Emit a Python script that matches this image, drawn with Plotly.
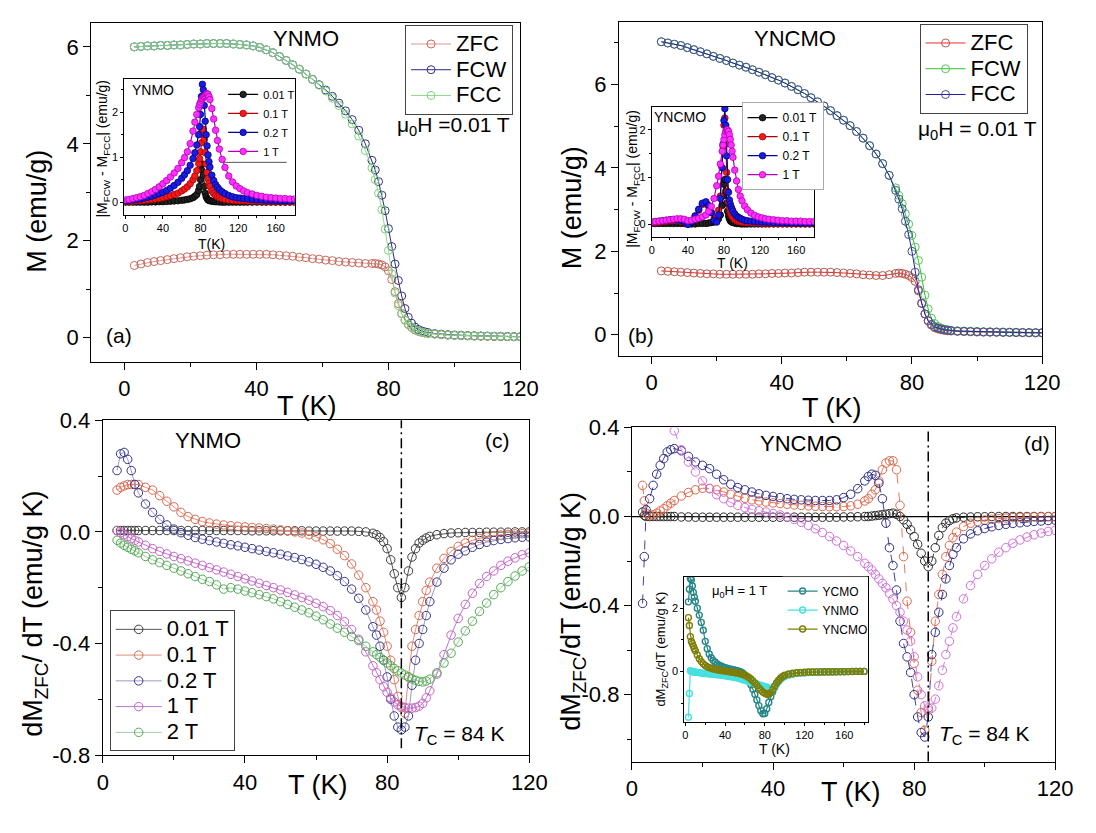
import plotly.graph_objects as go

W, H = 1096, 833
FONT = "Liberation Sans, Arial, Helvetica, sans-serif"


def fx(px):
    return px / W


def fy(py):
    return 1 - py / H


# ---------------- panel (a): YNMO, mu0H = 0.01 T ----------------
T_ab = list(range(3, 76, 2)) + list(range(76, 93)) + list(range(94, 121, 2))

zfc_a = [1.49, 1.52, 1.55, 1.57, 1.59, 1.61, 1.63, 1.65, 1.67, 1.68,
         1.69, 1.70, 1.71, 1.71, 1.72, 1.72, 1.72, 1.72, 1.72, 1.72,
         1.72, 1.71, 1.70, 1.69, 1.68, 1.66, 1.65, 1.63, 1.62, 1.60,
         1.59, 1.57, 1.56, 1.55, 1.54, 1.53, 1.53,
         1.53, 1.52, 1.50, 1.46, 1.38, 1.20, 0.95, 0.70, 0.50, 0.36,
         0.27, 0.21, 0.16, 0.13, 0.11, 0.095, 0.085,
         0.07, 0.06, 0.05, 0.045, 0.04, 0.035, 0.03, 0.028, 0.025, 0.022,
         0.02, 0.018, 0.016, 0.015]
fcw_a = [6.00, 6.01, 6.02, 6.02, 6.03, 6.03, 6.04, 6.04, 6.05, 6.06,
         6.06, 6.07, 6.07, 6.07, 6.07, 6.06, 6.05, 6.04, 6.02, 5.99,
         5.94, 5.88, 5.80, 5.72, 5.63, 5.54, 5.44, 5.33, 5.22, 5.11,
         4.98, 4.84, 4.68, 4.50, 4.28, 4.00, 3.66,
         3.46, 3.22, 2.94, 2.62, 2.25, 1.88, 1.52, 1.18, 0.86, 0.60,
         0.42, 0.30, 0.22, 0.17, 0.14, 0.12, 0.105,
         0.085, 0.072, 0.062, 0.055, 0.05, 0.045, 0.04, 0.036, 0.033, 0.03,
         0.028, 0.025, 0.023, 0.022]
fcc_a = [6.00, 6.01, 6.02, 6.02, 6.03, 6.03, 6.04, 6.04, 6.05, 6.06,
         6.06, 6.07, 6.07, 6.07, 6.07, 6.06, 6.05, 6.04, 6.02, 5.99,
         5.94, 5.88, 5.80, 5.72, 5.63, 5.54, 5.44, 5.33, 5.21, 5.09,
         4.94, 4.79, 4.61, 4.41, 4.16, 3.86, 3.50,
         3.26, 2.98, 2.64, 2.24, 1.80, 1.32, 0.92, 0.66, 0.49, 0.37,
         0.28, 0.22, 0.17, 0.14, 0.115, 0.10, 0.09,
         0.075, 0.065, 0.055, 0.05, 0.045, 0.04, 0.035, 0.032, 0.03, 0.028,
         0.025, 0.022, 0.02, 0.02]

# ---------------- panel (b): YNCMO, mu0H = 0.01 T ----------------
zfc_b = [1.53, 1.52, 1.51, 1.50, 1.49, 1.48, 1.47, 1.46, 1.46, 1.45,
         1.45, 1.45, 1.45, 1.45, 1.45, 1.46, 1.46, 1.47, 1.47, 1.48,
         1.48, 1.49, 1.50, 1.50, 1.50, 1.50, 1.50, 1.49, 1.48, 1.47,
         1.46, 1.44, 1.43, 1.42, 1.42, 1.44, 1.47,
         1.48, 1.47, 1.45, 1.42, 1.37, 1.28, 1.05, 0.76, 0.50, 0.33,
         0.23, 0.17, 0.14, 0.12, 0.105, 0.095, 0.09,
         0.08, 0.075, 0.07, 0.065, 0.062, 0.06, 0.058, 0.055, 0.053, 0.05,
         0.048, 0.046, 0.045, 0.044]
fcw_b = [7.02, 6.99, 6.96, 6.93, 6.88, 6.83, 6.78, 6.73, 6.67, 6.62,
         6.57, 6.51, 6.46, 6.41, 6.35, 6.29, 6.23, 6.16, 6.10, 6.03,
         5.95, 5.87, 5.78, 5.68, 5.58, 5.48, 5.37, 5.25, 5.14, 5.01,
         4.87, 4.71, 4.53, 4.33, 4.10, 3.82, 3.52,
         3.34, 3.14, 2.90, 2.65, 2.38, 2.10, 1.78, 1.38, 0.95, 0.62,
         0.40, 0.27, 0.20, 0.16, 0.135, 0.12, 0.11,
         0.095, 0.09, 0.085, 0.08, 0.075, 0.072, 0.07, 0.067, 0.064, 0.061,
         0.058, 0.056, 0.054, 0.053]
fcc_b = [7.02, 6.99, 6.96, 6.93, 6.88, 6.83, 6.78, 6.73, 6.67, 6.62,
         6.57, 6.51, 6.46, 6.41, 6.35, 6.29, 6.23, 6.16, 6.10, 6.03,
         5.95, 5.87, 5.78, 5.68, 5.58, 5.48, 5.37, 5.25, 5.14, 5.01,
         4.87, 4.71, 4.53, 4.33, 4.10, 3.82, 3.46,
         3.25, 3.02, 2.72, 2.40, 2.00, 1.50, 1.08, 0.75, 0.50, 0.34,
         0.25, 0.19, 0.16, 0.14, 0.12, 0.11, 0.10,
         0.09, 0.085, 0.08, 0.075, 0.07, 0.068, 0.065, 0.062, 0.06, 0.057,
         0.055, 0.052, 0.05, 0.05]

# ---------------- insets of (a) and (b): |M_FCW - M_FCC| ----------------
T_in = [0, 4, 8, 12, 16, 20, 24, 28, 32, 36, 40, 44, 48, 52, 56, 60,
        63, 66, 69, 72, 74, 76, 78,
        79, 80, 81, 82, 83, 84, 85, 86, 87, 88, 89, 90,
        92, 94, 96, 98, 100,
        103, 106, 110, 114, 118, 122, 126, 130,
        135, 140, 145, 150, 155, 160, 165, 170, 175, 180]
fields_in = ["0.01 T", "0.1 T", "0.2 T", "1 T"]

dfc_ynmo = [
    [0, 0, 0, 0, 0, 0, 0, 0.005, 0.005, 0.01, 0.01, 0.015, 0.02, 0.025, 0.03, 0.04,
     0.05, 0.06, 0.075, 0.1, 0.13, 0.17, 0.26,
     0.35, 0.5, 0.72, 0.85, 0.6, 0.35, 0.2, 0.12, 0.08, 0.05, 0.04, 0.03,
     0.02, 0.015, 0.01, 0.01, 0.005,
     0, 0, 0, 0, 0, 0, 0, 0,
     0, 0, 0, 0, 0, 0, 0, 0, 0, 0],
    [0.02, 0.02, 0.02, 0.03, 0.03, 0.04, 0.05, 0.06, 0.07, 0.08, 0.1, 0.12, 0.14, 0.17, 0.2, 0.25,
     0.29, 0.34, 0.41, 0.5, 0.58, 0.7, 0.86,
     0.97, 1.12, 1.32, 1.55, 1.62, 1.4, 1.1, 0.85, 0.66, 0.52, 0.42, 0.35,
     0.25, 0.19, 0.15, 0.12, 0.1,
     0.08, 0.065, 0.05, 0.04, 0.035, 0.03, 0.03, 0.025,
     0.02, 0.02, 0.02, 0.015, 0.015, 0.015, 0.01, 0.01, 0.01, 0.01],
    [0.03, 0.04, 0.05, 0.06, 0.07, 0.09, 0.11, 0.13, 0.16, 0.19, 0.22, 0.26, 0.31, 0.37, 0.44, 0.53,
     0.61, 0.7, 0.82, 0.97, 1.1, 1.27, 1.5,
     1.68, 1.95, 2.35, 2.62, 2.5, 2.15, 1.8, 1.5, 1.25, 1.05, 0.9, 0.78,
     0.6, 0.48, 0.39, 0.33, 0.28,
     0.23, 0.19, 0.15, 0.12, 0.1, 0.09, 0.08, 0.07,
     0.06, 0.05, 0.05, 0.04, 0.04, 0.035, 0.03, 0.03, 0.03, 0.03],
    [0.05, 0.06, 0.08, 0.1, 0.12, 0.15, 0.19, 0.23, 0.28, 0.34, 0.41, 0.48, 0.56, 0.65, 0.75, 0.88,
     0.99, 1.12, 1.3, 1.58, 1.78, 1.95, 2.1,
     2.17, 2.22, 2.27, 2.3, 2.33, 2.35, 2.37, 2.4, 2.41, 2.4, 2.35, 2.28,
     2.08, 1.85, 1.6, 1.37, 1.18,
     0.95, 0.77, 0.58, 0.45, 0.36, 0.3, 0.25, 0.21,
     0.18, 0.15, 0.13, 0.11, 0.1, 0.09, 0.08, 0.08, 0.07, 0.07],
]
dfc_yncmo = [
    [0.02, 0.02, 0.02, 0.02, 0.02, 0.02, 0.02, 0.02, 0.02, 0.02, 0.01, 0.01, 0.01, 0.02, 0.02, 0.02,
     0.03, 0.04, 0.05, 0.08, 0.12, 0.2, 0.4,
     0.6, 0.85, 0.95, 0.7, 0.45, 0.28, 0.18, 0.12, 0.08, 0.06, 0.05, 0.04,
     0.03, 0.02, 0.02, 0.015, 0.01,
     0.01, 0.01, 0.01, 0.01, 0.01, 0.01, 0.01, 0.01,
     0.01, 0.01, 0.01, 0.01, 0.01, 0.01, 0.01, 0.01, 0.01, 0.01],
    [0.03, 0.04, 0.05, 0.06, 0.07, 0.08, 0.08, 0.08, 0.07, 0.05, 0.02, 0.08, 0.18, 0.3, 0.42, 0.45,
     0.38, 0.25, 0.12, 0.15, 0.3, 0.6, 1.2,
     1.65, 2.1, 2.25, 1.7, 1.1, 0.7, 0.48, 0.35, 0.27, 0.21, 0.17, 0.14,
     0.1, 0.08, 0.065, 0.055, 0.05,
     0.045, 0.04, 0.035, 0.03, 0.03, 0.025, 0.025, 0.02,
     0.02, 0.02, 0.02, 0.02, 0.02, 0.02, 0.02, 0.02, 0.02, 0.02],
    [0.05, 0.06, 0.07, 0.08, 0.09, 0.1, 0.1, 0.1, 0.09, 0.06, 0.0, 0.06, 0.18, 0.32, 0.45, 0.48,
     0.4, 0.25, 0.08, 0.05, 0.2, 0.55, 1.2,
     1.7, 2.2, 2.45, 2.1, 1.45, 0.95, 0.68, 0.52, 0.43, 0.37, 0.32, 0.28,
     0.22, 0.18, 0.15, 0.13, 0.11,
     0.09, 0.08, 0.07, 0.06, 0.055, 0.05, 0.05, 0.045,
     0.04, 0.04, 0.04, 0.035, 0.035, 0.035, 0.03, 0.03, 0.03, 0.03],
    [0.05, 0.06, 0.07, 0.08, 0.09, 0.1, 0.11, 0.12, 0.12, 0.11, 0.08, 0.09, 0.11, 0.13, 0.16, 0.2,
     0.28, 0.38, 0.55, 0.82, 1.02, 1.28, 1.55,
     1.68, 1.8, 1.9, 1.97, 2.0, 2.0, 1.97, 1.9, 1.8, 1.68, 1.55, 1.42,
     1.15, 0.92, 0.74, 0.6, 0.5,
     0.39, 0.31, 0.24, 0.19, 0.16, 0.14, 0.12, 0.11,
     0.1, 0.09, 0.08, 0.08, 0.07, 0.07, 0.07, 0.06, 0.06, 0.06],
]

# ---------------- panel (c): dM_ZFC/dT of YNMO ----------------
T_c = [4, 5, 6, 7, 8, 9, 10] + list(range(12, 77, 2)) + list(range(77, 93)) + list(range(94, 121, 2))
fields_c = ["0.01 T", "0.1 T", "0.2 T", "1 T", "2 T"]
dmdt_c = [
    [0.005, 0.005, 0.005, 0.005, 0.005, 0.005, 0.005,
     0.005, 0.005, 0.005, 0.005, 0.005, 0.005, 0.005, 0.005, 0.005, 0.005,
     0.005, 0.005, 0.005, 0.005, 0.005, 0.004, 0.004, 0.004, 0.004, 0.004,
     0.004, 0.004, 0.004, 0.003, 0.003, 0.003, 0.003, 0.003, 0.003, 0.003,
     0.002, 0.0, -0.005,
     -0.01, -0.02, -0.035, -0.06, -0.1, -0.15, -0.2, -0.235, -0.2, -0.14,
     -0.09, -0.06, -0.04, -0.03, -0.022, -0.016,
     -0.01, -0.006, -0.004, -0.003, -0.002, -0.002, -0.002, -0.001, -0.001, -0.001,
     -0.001, 0.0, 0.0, 0.0],
    [0.15, 0.16, 0.165, 0.17, 0.17, 0.17, 0.17,
     0.16, 0.15, 0.13, 0.11, 0.09, 0.07, 0.055, 0.045, 0.037, 0.032,
     0.028, 0.025, 0.022, 0.02, 0.018, 0.016, 0.014, 0.012, 0.01, 0.007,
     0.004, 0.0, -0.004, -0.01, -0.018, -0.028, -0.042, -0.062, -0.085, -0.115,
     -0.155, -0.2, -0.25,
     -0.28, -0.32, -0.36, -0.41, -0.46, -0.53, -0.59, -0.63, -0.65, -0.52,
     -0.41, -0.35, -0.3, -0.25, -0.21, -0.18,
     -0.13, -0.095, -0.07, -0.052, -0.04, -0.03, -0.023, -0.018, -0.014, -0.011,
     -0.009, -0.007, -0.006, -0.005],
    [0.22, 0.28, 0.285, 0.26, 0.22, 0.17, 0.14,
     0.1, 0.07, 0.045, 0.025, 0.01, -0.003, -0.012, -0.02, -0.026, -0.031,
     -0.036, -0.041, -0.046, -0.05, -0.055, -0.06, -0.065, -0.07, -0.075, -0.08,
     -0.086, -0.092, -0.099, -0.107, -0.116, -0.127, -0.14, -0.157, -0.178, -0.205,
     -0.238, -0.28, -0.34,
     -0.37, -0.41, -0.46, -0.52, -0.6, -0.66, -0.7, -0.71, -0.7, -0.66,
     -0.55, -0.46, -0.4, -0.35, -0.3, -0.25,
     -0.18, -0.13, -0.1, -0.08, -0.068, -0.055, -0.045, -0.037, -0.031, -0.027,
     -0.024, -0.021, -0.019, -0.018],
    [0.005, -0.003, -0.01, -0.017, -0.024, -0.03, -0.036,
     -0.048, -0.06, -0.07, -0.079, -0.088, -0.096, -0.104, -0.112, -0.12, -0.128,
     -0.136, -0.144, -0.152, -0.16, -0.168, -0.176, -0.184, -0.192, -0.2, -0.208,
     -0.217, -0.226, -0.235, -0.245, -0.256, -0.268, -0.282, -0.3, -0.322, -0.35,
     -0.385, -0.43, -0.48,
     -0.505, -0.53, -0.555, -0.575, -0.595, -0.61, -0.62, -0.625, -0.63, -0.632,
     -0.632, -0.63, -0.625, -0.615, -0.595, -0.57,
     -0.51, -0.44, -0.37, -0.31, -0.26, -0.22, -0.185, -0.16, -0.14, -0.12,
     -0.105, -0.093, -0.082, -0.075],
    [-0.03, -0.04, -0.048, -0.055, -0.062, -0.068, -0.075,
     -0.088, -0.1, -0.11, -0.12, -0.13, -0.14, -0.15, -0.16, -0.17, -0.178,
     -0.19, -0.205, -0.2, -0.205, -0.212, -0.218, -0.225, -0.232, -0.24, -0.25,
     -0.26, -0.27, -0.28, -0.29, -0.302, -0.315, -0.33, -0.345, -0.36, -0.375,
     -0.39, -0.41, -0.43,
     -0.44, -0.45, -0.46, -0.47, -0.48, -0.49, -0.498, -0.506, -0.513, -0.52,
     -0.527, -0.532, -0.536, -0.538, -0.535, -0.528,
     -0.505, -0.47, -0.435, -0.395, -0.355, -0.32, -0.285, -0.255, -0.225, -0.2,
     -0.178, -0.158, -0.14, -0.125],
]

# ---------------- panel (d): dM_ZFC/dT of YNCMO ----------------
T_d = [3, 3.5, 4, 5, 6, 7, 8, 9, 10, 11, 12] + list(range(14, 67, 2)) + list(range(67, 93)) + list(range(94, 121, 2))
dmdt_d = [
    [0.02, 0.005, 0.0, 0.0, 0.0, 0.0, 0.0, 0.0, 0.0, 0.0, 0.0,
     -0.002, -0.002, -0.003, -0.003, -0.003, -0.003, -0.003, -0.003, -0.003, -0.003,
     -0.003, -0.003, -0.003, -0.003, -0.003, -0.003, -0.003, -0.003, -0.003, -0.003,
     -0.003, -0.003, -0.003, -0.002, -0.002, -0.001, 0.0,
     0.0, 0.002, 0.004, 0.006, 0.008, 0.01, 0.013, 0.015, 0.01, 0.0,
     -0.015, -0.035, -0.06, -0.09, -0.125, -0.165, -0.2, -0.225, -0.2, -0.14,
     -0.085, -0.05, -0.03, -0.018, -0.01, -0.006,
     -0.003, -0.002, -0.001, -0.001, 0.0, 0.0, 0.0, 0.0, 0.0, 0.0,
     0.0, 0.0, 0.0, 0.0],
    [0.14, 0.07, 0.015, 0.005, 0.008, 0.015, 0.025, 0.035, 0.048, 0.06, 0.072,
     0.092, 0.108, 0.12, 0.127, 0.126, 0.12, 0.11, 0.1, 0.09, 0.082,
     0.075, 0.07, 0.065, 0.061, 0.058, 0.055, 0.052, 0.05, 0.048, 0.046,
     0.045, 0.044, 0.044, 0.045, 0.048, 0.055, 0.07,
     0.08, 0.1, 0.12, 0.16, 0.21, 0.24, 0.25, 0.25, 0.21, 0.05,
     -0.18, -0.38, -0.52, -0.66, -0.78, -0.88, -0.96, -0.86, -0.65, -0.47,
     -0.35, -0.26, -0.18, -0.13, -0.095, -0.07,
     -0.045, -0.03, -0.022, -0.016, -0.012, -0.009, -0.007, -0.005, -0.004, -0.003,
     -0.002, -0.002, -0.001, -0.001],
    [-0.39, -0.18, 0.03, 0.08, 0.14, 0.19, 0.23, 0.26, 0.29, 0.3, 0.305,
     0.295, 0.27, 0.245, 0.23, 0.215, 0.19, 0.165, 0.145, 0.13, 0.12,
     0.11, 0.102, 0.095, 0.09, 0.085, 0.08, 0.077, 0.075, 0.073, 0.072,
     0.072, 0.072, 0.075, 0.085, 0.1, 0.125, 0.16,
     0.18, 0.19, 0.185, 0.15, 0.08, -0.03, -0.14, -0.22, -0.33, -0.47,
     -0.57, -0.63, -0.7, -0.8, -0.9, -0.97, -0.99, -0.9, -0.62, -0.52,
     -0.43, -0.35, -0.28, -0.22, -0.17, -0.14,
     -0.1, -0.078, -0.064, -0.054, -0.046, -0.04, -0.035, -0.031, -0.028, -0.025,
     -0.022, -0.02, -0.018, -0.016],
    [None, None, None, None, None, None, None, None, None, None, 0.385,
     0.3, 0.245, 0.2, 0.16, 0.125, 0.098, 0.08, 0.063, 0.05, 0.04,
     0.032, 0.026, 0.02, 0.014, 0.007, -0.002, -0.013, -0.026, -0.04, -0.055,
     -0.072, -0.09, -0.11, -0.13, -0.155, -0.18, -0.21,
     -0.225, -0.24, -0.26, -0.28, -0.3, -0.32, -0.345, -0.37, -0.4, -0.43,
     -0.47, -0.51, -0.56, -0.63, -0.72, -0.8, -0.85, -0.87, -0.86, -0.82,
     -0.76, -0.69, -0.62, -0.56, -0.5, -0.45,
     -0.37, -0.31, -0.26, -0.22, -0.19, -0.16, -0.14, -0.12, -0.105, -0.092,
     -0.082, -0.074, -0.067, -0.062],
]

# ---------------- inset of (d): dM_ZFC/dT at 1 T for three samples ----------------
T_di = [3, 4, 5, 6, 7, 8, 9] + list(range(10, 101, 2)) + list(range(104, 181, 4))
samples_di = ["YCMO", "YNMO", "YNCMO"]
dmdt_di = [
    [2.2, 2.6, 2.94, 2.9, 2.7, 2.5, 2.35,
     2.22, 2.0, 1.78, 1.55, 1.3, 0.95, 0.72, 0.55, 0.43, 0.35,
     0.29, 0.24, 0.2, 0.17, 0.14, 0.12, 0.1, 0.08, 0.07, 0.055,
     0.04, 0.025, 0.01, -0.02, -0.06, -0.12, -0.2, -0.3, -0.42, -0.56,
     -0.72, -0.9, -1.08, -1.24, -1.34, -1.33, -1.18, -0.98, -0.8, -0.64,
     -0.5, -0.38, -0.3, -0.23, -0.18, -0.15,
     -0.11, -0.08, -0.06, -0.05, -0.04, -0.035, -0.03, -0.025, -0.02, -0.02,
     -0.015, -0.015, -0.01, -0.01, -0.01, -0.005, -0.005, 0.0, 0.0, 0.0],
    [-1.45, -0.7, 0.02, 0.0, -0.01, -0.01, -0.02,
     -0.02, -0.03, -0.04, -0.05, -0.06, -0.065, -0.07, -0.08, -0.085, -0.09,
     -0.1, -0.105, -0.11, -0.12, -0.13, -0.14, -0.15, -0.16, -0.17, -0.18,
     -0.19, -0.2, -0.22, -0.24, -0.26, -0.28, -0.3, -0.32, -0.34, -0.36,
     -0.38, -0.4, -0.42, -0.44, -0.46, -0.48, -0.5, -0.52, -0.54, -0.53,
     -0.47, -0.39, -0.31, -0.24, -0.19, -0.15,
     -0.1, -0.07, -0.05, -0.04, -0.03, -0.025, -0.02, -0.02, -0.015, -0.015,
     -0.01, -0.01, -0.01, -0.005, -0.005, -0.005, 0.0, 0.0, 0.0, 0.0],
    [1.7, 1.45, 1.1, 0.95, 0.88, 0.8, 0.72,
     0.65, 0.52, 0.4, 0.31, 0.24, 0.19, 0.15, 0.12, 0.1, 0.08,
     0.065, 0.05, 0.04, 0.03, 0.02, 0.01, 0.0, -0.01, -0.02, -0.03,
     -0.04, -0.05, -0.06, -0.08, -0.1, -0.12, -0.15, -0.19, -0.24, -0.3,
     -0.37, -0.44, -0.52, -0.59, -0.65, -0.69, -0.72, -0.72, -0.67, -0.57,
     -0.46, -0.36, -0.28, -0.21, -0.16, -0.12,
     -0.08, -0.055, -0.04, -0.03, -0.025, -0.02, -0.02, -0.015, -0.015, -0.01,
     -0.01, -0.01, -0.01, -0.005, -0.005, -0.005, 0.0, 0.0, 0.0, 0.0],
]

TC = 84  # Curie temperature marked in (c) and (d)

for s in (zfc_a, fcw_a, fcc_a, zfc_b, fcw_b, fcc_b):
    assert len(s) == len(T_ab), len(s)
for s in dfc_ynmo + dfc_yncmo:
    assert len(s) == len(T_in), len(s)
for s in dmdt_c:
    assert len(s) == len(T_c), len(s)
for s in dmdt_d:
    assert len(s) == len(T_d), len(s)
for s in dmdt_di:
    assert len(s) == len(T_di), len(s)

fig = go.Figure()


def big(name):
    # legend rows are spaced by the legend font; the label itself is drawn larger
    return '<span style="font-size:22px">' + name + "</span>"


def open_trace(x, y, name, ax, mcol, lcol, legend=None, size=8, lw=1.0, dash="solid", show=True):
    fig.add_trace(go.Scatter(
        x=x, y=y, name=big(name), mode="lines+markers",
        xaxis="x" + ax, yaxis="y" + ax,
        line=dict(color=lcol, width=lw, dash=dash),
        marker=dict(symbol="circle-open", size=size, color=mcol, line=dict(width=1.0)),
        legend=legend, showlegend=show, connectgaps=False,
    ))


def ball_trace(x, y, name, ax, fill, edge, legend):
    fig.add_trace(go.Scatter(
        x=x, y=y, name=name, mode="lines+markers",
        xaxis="x" + ax, yaxis="y" + ax,
        line=dict(color=edge, width=1.2),
        marker=dict(symbol="circle", size=6.5, color=fill, line=dict(color=edge, width=0.8)),
        legend=legend,
    ))


# (a)
open_trace(T_ab, zfc_a, "ZFC", "", "#c8675c", "#d99a94", legend="legend")
open_trace(T_ab, fcw_a, "FCW", "", "#34347e", "#2a2a80", legend="legend")
open_trace(T_ab, fcc_a, "FCC", "", "#7fd27f", "#8fd88f", legend="legend")
# (b)
open_trace(T_ab, zfc_b, "ZFC", "2", "#b8574d", "#ee2a2a", legend="legend2")
open_trace(T_ab, fcw_b, "FCW", "2", "#55c855", "#2fc02f", legend="legend2")
open_trace(T_ab, fcc_b, "FCC", "2", "#4a4a98", "#1f1fa0", legend="legend2")
# (c)
c_mark = ["#3a3a3a", "#d8694f", "#34348c", "#c862c8", "#52aa52"]
c_line = ["#555555", "#e08c7a", "#9a9ac4", "#b878c8", "#a6c8ae"]
for name, vals, mc, lc in zip(fields_c, dmdt_c, c_mark, c_line):
    open_trace(T_c, vals, name, "3", mc, lc, legend="legend3", size=8.5)
# (d)
d_mark = ["#2a2a2a", "#e0684a", "#2e2e88", "#d070d8"]
for name, vals, mc in zip(fields_in, dmdt_d, d_mark):
    open_trace(T_d, vals, name, "4", mc, mc, size=8.5, lw=0.9, dash="dash", show=False)

# insets (a) and (b)
ins_fill = ["#222222", "#f01c1c", "#1c1ce0", "#ff30ff"]
ins_edge = ["#000000", "#b00000", "#00008a", "#b000b0"]
for name, vals, fc, ec in zip(fields_in, dfc_ynmo, ins_fill, ins_edge):
    ball_trace(T_in, vals, name, "5", fc, ec, "legend4")
for name, vals, fc, ec in zip(fields_in, dfc_yncmo, ins_fill, ins_edge):
    ball_trace(T_in, vals, name, "6", fc, ec, "legend5")

# inset (d)
di_col = ["#278787", "#45e0e0", "#7e7e06"]
for name, vals, col in zip(samples_di, dmdt_di, di_col):
    fig.add_trace(go.Scatter(
        x=T_di, y=vals, name=name, mode="lines+markers", xaxis="x7", yaxis="y7",
        line=dict(color=col, width=1.2),
        marker=dict(symbol="circle-open", size=6, color=col, line=dict(width=1.4)),
        legend="legend6",
    ))


def axis(domain, rng, anchor, tickvals, ticktext, minor_vals, inset=False):
    return dict(
        domain=domain, range=rng, anchor=anchor,
        showline=True, linecolor="black", linewidth=1.0 if inset else 1.4, mirror=True,
        ticks="outside", ticklen=3 if inset else 7, tickwidth=1.0 if inset else 1.4, tickcolor="black",
        tickmode="array", tickvals=tickvals, ticktext=ticktext,
        tickfont=dict(family=FONT, size=11 if inset else 22, color="black"),
        showgrid=False, zeroline=False,
        minor=dict(tickmode="array", tickvals=minor_vals, ticks="outside",
                   ticklen=2 if inset else 4, tickwidth=1.0, tickcolor="black", showgrid=False),
    )


xT = [0, 40, 80, 120]
xTt = ["0", "40", "80", "120"]
xI = [0, 40, 80, 120, 160]
xIt = ["0", "40", "80", "120", "160"]

layout_axes = dict(
    xaxis=axis([fx(87.3), fx(526)], [-10, 120], "y", xT, xTt, [20, 60, 100]),
    yaxis=axis([fy(360.7), fy(11)], [-0.5, 6.5], "x", [0, 2, 4, 6], ["0", "2", "4", "6"], [1, 3, 5]),
    xaxis2=axis([fx(626.7), fx(1059.3)], [-10, 120], "y2", xT, xTt, [20, 60, 100]),
    yaxis2=axis([fy(354.3), fy(10)], [-0.5, 7.5], "x2", [0, 2, 4, 6], ["0", "2", "4", "6"], [1, 3, 5, 7]),
    xaxis3=axis([fx(99), fx(535)], [0, 120], "y3", xT, xTt, [20, 60, 100]),
    yaxis3=axis([fy(766), fy(421)], [-0.8, 0.4], "x3", [-0.8, -0.4, 0, 0.4],
                ["-0.8", "-0.4", "0.0", "0.4"], [-0.6, -0.2, 0.2]),
    xaxis4=axis([fx(640), fx(1072.7)], [0, 120], "y4", xT, xTt, [20, 60, 100]),
    yaxis4=axis([fy(772.7), fy(428.3)], [-1.1, 0.4], "x4", [-0.8, -0.4, 0, 0.4],
                ["-0.8", "-0.4", "0.0", "0.4"], [-1.0, -0.6, -0.2, 0.2]),
    xaxis5=axis([fx(121), fx(295)], [-1, 180], "y5", xI, xIt, [20, 60, 100, 140], inset=True),
    yaxis5=axis([fy(209), fy(69)], [-0.28, 2.74], "x5", [0, 1, 2], ["0", "1", "2"], [0.5, 1.5, 2.5], inset=True),
    xaxis6=axis([fx(660.3), fx(826.2)], [0, 180], "y6", xI, xIt, [20, 60, 100, 140], inset=True),
    yaxis6=axis([fy(231.7), fy(97.7)], [-0.26, 2.49], "x6", [0, 1, 2], ["0", "1", "2"], [0.5, 1.5], inset=True),
    xaxis7=axis([fx(693.6), fx(881.3)], [-1, 184], "y7", xI, xIt, [20, 60, 100, 140, 180], inset=True),
    yaxis7=axis([fy(732), fy(582)], [-1.6, 3.0], "x7", [0, 2], ["0", "2"], [-1, 1], inset=True),
)


def legend_box(x, y, size, border=1, bcol="#444444", bg="white", itemwidth=40):
    return dict(x=fx(x), y=fy(y), xanchor="left", yanchor="top",
                font=dict(family=FONT, size=size, color="black"),
                bgcolor=bg, bordercolor=bcol, borderwidth=border,
                itemwidth=itemwidth, tracegroupgap=0)


def ann(text, x, y, size, angle=0):
    return dict(text=text, x=fx(x), y=fy(y), xref="paper", yref="paper",
                xanchor="center", yanchor="middle", showarrow=False, textangle=angle,
                font=dict(family=FONT, size=size, color="black"))


annotations = [
    ann("YNMO", 307, 27, 22),
    ann("μ<sub>0</sub>H =0.01 T", 458, 118, 21),
    ann("(a)", 116, 333, 21),
    ann("YNCMO", 807, 27, 22),
    ann("μ<sub>0</sub>H = 0.01 T", 993, 122, 21),
    ann("(b)", 649, 334, 21),
    ann("YNMO", 207, 442, 22),
    ann("(c)", 503, 442, 21),
    ann("<i>T</i><sub>C</sub> = 84 K", 464, 745, 21),
    ann("YNCMO", 813, 445, 22),
    ann("(d)", 1054, 445, 21),
    ann("<i>T</i><sub>C</sub> = 84 K", 1000, 745, 21),
    ann("T (K)", 308, 406, 27),
    ann("T (K)", 845, 408, 27),
    ann("T (K)", 319, 797, 27),
    ann("T (K)", 864, 804, 27),
    ann("M (emu/g)", 31.5, 205, 27, -90),
    ann("M (emu/g)", 579, 202, 27, -90),
    ann("dM<sub>ZFC</sub>/ dT (emu/g K)", 30, 620, 27, -90),
    ann("dM<sub>ZFC</sub>/dT (emu/g K)", 580, 618, 27, -90),
    ann("YNMO", 150, 80, 14),
    ann("YNCMO", 689, 108, 14),
    ann("μ<sub>0</sub>H = 1 T", 750, 597, 13),
    ann("T(K)", 210, 239, 14),
    ann("T (K)", 743, 259, 14),
    ann("T (K)", 786, 760, 14),
    ann("|M<sub>FCW</sub> - M<sub>FCC</sub>| (emu/g)", 99, 141, 14, -90),
    ann("|M<sub>FCW</sub> - M<sub>FCC</sub>| (emu/g)", 641, 172, 14, -90),
    ann("dM<sub>ZFC</sub>/dT (emu/g K)", 670, 657, 13, -90),
]

shapes = [
    dict(type="line", xref="x3", yref="y3 domain", x0=TC, x1=TC, y0=0.02, y1=1,
         line=dict(color="black", width=1.5, dash="10px,4px,2px,4px"), layer="above"),
    dict(type="line", xref="x4", yref="y4 domain", x0=TC, x1=TC, y0=0, y1=1,
         line=dict(color="black", width=1.5, dash="10px,4px,2px,4px"), layer="above"),
    dict(type="line", xref="x4 domain", yref="y4", x0=0, x1=1, y0=0, y1=0,
         line=dict(color="black", width=1.3), layer="below"),
    dict(type="line", xref="paper", yref="paper", x0=fx(222), x1=fx(287), y0=fy(155), y1=fy(155),
         line=dict(color="#555555", width=1)),
    dict(type="line", xref="paper", yref="paper", x0=fx(794), x1=fx(881), y0=fy(582), y1=fy(582),
         line=dict(color="#555555", width=1)),
]

fig.update_layout(
    width=W, height=H, margin=dict(l=0, r=0, t=0, b=0),
    paper_bgcolor="white", plot_bgcolor="white",
    font=dict(family=FONT, color="black"),
    legend=legend_box(408, 13.5, 17.5),
    legend2=legend_box(934, 12.5, 17.5),
    legend3=legend_box(106, 617, 17.5, itemwidth=46),
    legend4=legend_box(222, 70, 11, border=0, bg="rgba(0,0,0,0)", itemwidth=30),
    legend5=legend_box(752, 93, 12, border=1, bcol="#aaaaaa", itemwidth=30),
    legend6=legend_box(794, 582, 12, border=0, bg="rgba(0,0,0,0)", itemwidth=30),
    annotations=annotations, shapes=shapes,
    **layout_axes,
)

fig.write_html("out.html")
